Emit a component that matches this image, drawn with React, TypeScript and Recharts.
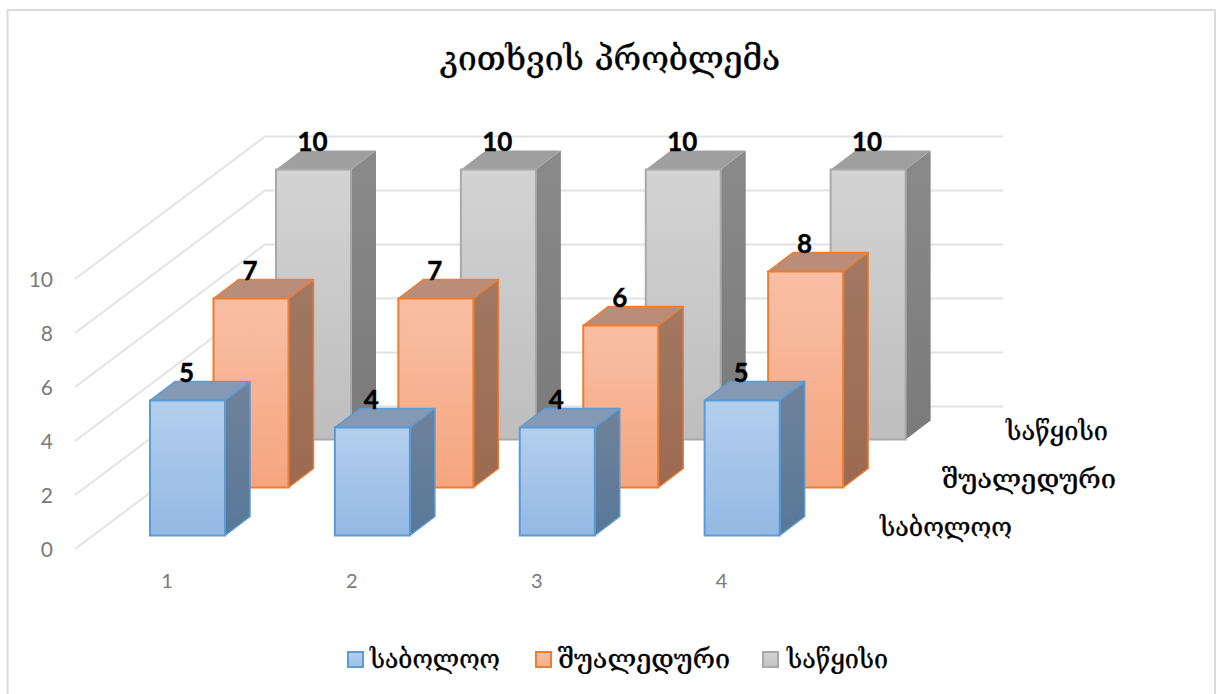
import { Bar, BarChart, CartesianGrid, LabelList, Legend, XAxis, YAxis } from "recharts";

const categories = ["1", "2", "3", "4"];
const finalValues = [5, 4, 4, 5];
const midValues = [7, 7, 6, 8];
const startValues = [10, 10, 10, 10];
const yTicks = [0, 2, 4, 6, 8, 10];

const NAME_FINAL = "საბოლოო";
const NAME_MID = "შუალედური";
const NAME_START = "საწყისი";

const data = categories.map((c, i) => ({
  c,
  [NAME_FINAL]: finalValues[i],
  [NAME_MID]: midValues[i],
  [NAME_START]: startValues[i],
}));

const GEO = "'DejaVu Serif', serif";
const LATIN = "Lato, sans-serif";

const styles = {
  final: { dx: 0, dy: 0, stroke: "#5b9bd5", top: "#8499b3", id: "final", swatch: "#b3cfed,#9fc0e8" },
  mid: { dx: 63.5, dy: -48, stroke: "#ed7d31", top: "#b98d78", id: "mid", swatch: "#f8bfa5,#f6ae8b" },
  start: { dx: 126, dy: -96, stroke: "#a9a9a9", top: "#9f9f9f", id: "start", swatch: "#d2d2d2,#c4c4c4" },
};

function Grad({ id, a, b }: { id: string; a: string; b: string }) {
  return (
    <linearGradient id={id} x1="0" y1="0" x2="0" y2="1">
      <stop offset="0%" stopColor={a} />
      <stop offset="100%" stopColor={b} />
    </linearGradient>
  );
}

// front face + side + top, pushed back by the series' depth
const box = (s: typeof styles.final) => (p: any) => {
  const x = p.x + s.dx;
  const y = p.y + s.dy;
  const w = p.width;
  const h = p.height;
  const dw = 25;
  const dh = 19;
  const edge = s.id === "start" ? "none" : s.stroke;
  return (
    <g>
      <path
        d={`M${x + w},${y} l${dw},${-dh} v${h} l${-dw},${dh} z`}
        fill={`url(#${s.id}Side)`}
        stroke={edge}
        strokeWidth={1.5}
        strokeLinejoin="round"
      />
      <path
        d={`M${x},${y} l${dw},${-dh} h${w} l${-dw},${dh} z`}
        fill={s.top}
        stroke={edge}
        strokeWidth={1.5}
        strokeLinejoin="round"
      />
      <rect x={x} y={y} width={w} height={h} fill={`url(#${s.id}Front)`} stroke={s.stroke} strokeWidth={2} />
    </g>
  );
};

const valueLabel = (s: typeof styles.final) => (p: any) => (
  <text
    x={p.x + p.width / 2 + s.dx - 1}
    y={p.y + s.dy - 29}
    textAnchor="middle"
    dominantBaseline="central"
    fontFamily={LATIN}
    fontWeight={700}
    fontSize={26}
    stroke="#000"
    strokeWidth={0.4}
    fill="#000"
  >
    {p.value}
  </text>
);

// wall line for each value: diagonal on the side wall, then flat across the back wall
const wallLine = (p: any) => {
  const y = p.y1;
  return (
    <path
      key={p.index}
      d={`M75,${y + 13.5} L265,${y - 129} L1003,${y - 129}`}
      fill="none"
      stroke="#e2e2e2"
      strokeWidth={2}
    />
  );
};

const yTick = (p: any) => (
  <text x={53} y={p.y + 13} textAnchor="end" dominantBaseline="central" fontFamily={LATIN} fontSize={21} fill="#7a7a7a">
    {p.payload.value}
  </text>
);

const xTick = (p: any) => (
  <text x={p.x - 20.5} y={580} textAnchor="middle" dominantBaseline="central" fontFamily={LATIN} fontSize={20} fill="#7a7a7a">
    {p.payload.value}
  </text>
);

function SeriesName({ x, y, name, width }: { x: number; y: number; name: string; width: number }) {
  return (
    <text
      x={x}
      y={y}
      textAnchor="end"
      dominantBaseline="central"
      fontFamily={GEO}
      fontSize={26}
      stroke="#000"
      strokeWidth={0.35}
      fill="#000"
      textLength={width}
      lengthAdjust="spacingAndGlyphs"
    >
      {name}
    </text>
  );
}

function LegendRow() {
  const items = [
    { name: NAME_FINAL, s: styles.final, left: 347, text: 370, width: 130 },
    { name: NAME_MID, s: styles.mid, left: 535, text: 558, width: 172 },
    { name: NAME_START, s: styles.start, left: 762, text: 787, width: 101 },
  ];
  return (
    <div style={{ position: "relative", height: 30 }}>
      <svg width={1217} height={30} style={{ position: "absolute", left: 0, top: 0 }}>
        {items.map((it) => (
          <text
            key={it.name}
            x={it.text}
            y={15}
            dominantBaseline="central"
            fontFamily={GEO}
            fontSize={26}
            stroke="#000"
            strokeWidth={0.35}
            fill="#000"
            textLength={it.width}
            lengthAdjust="spacingAndGlyphs"
          >
            {it.name}
          </text>
        ))}
      </svg>
      {items.map((it) => (
        <div
          key={it.name}
          style={{
            position: "absolute",
            left: it.left,
            top: 7,
            width: 13,
            height: 13,
            border: `2px solid ${it.s.stroke}`,
            background: `linear-gradient(${it.s.swatch})`,
          }}
        />
      ))}
    </div>
  );
}

export default function App() {
  return (
    <div style={{ position: "absolute", left: 0, top: 0, width: 1217, height: 694, overflow: "hidden", background: "#fff" }}>
      <BarChart
        width={1217}
        height={694}
        data={data}
        margin={{ top: 265.5, right: 382.5, bottom: 127.5, left: 94 }}
        barSize={75}
        barGap={-75}
      >
        <defs>
          <Grad id="finalFront" a="#b3cfed" b="#94b9e4" />
          <Grad id="finalSide" a="#6f8299" b="#587899" />
          <Grad id="midFront" a="#f8bfa5" b="#f5a57e" />
          <Grad id="midSide" a="#a17862" b="#9c6a50" />
          <Grad id="startFront" a="#d3d3d3" b="#bebebe" />
          <Grad id="startSide" a="#8a8a8a" b="#7a7a7a" />
        </defs>
        <path d="M7.5,700 V10 H1215 V700" fill="none" stroke="#dcdcdc" strokeWidth={2} />
        <text
          x={610}
          y={58}
          textAnchor="middle"
          dominantBaseline="central"
          fontFamily={GEO}
          fontSize={33.5}
          stroke="#000"
          strokeWidth={0.4}
          fill="#000"
        >
          კითხვის პრობლემა
        </text>
        <CartesianGrid vertical={false} horizontal={wallLine} />
        <XAxis dataKey="c" height={1} axisLine={false} tickLine={false} tick={xTick} />
        <YAxis width={1} domain={[0, 10]} ticks={yTicks} axisLine={false} tickLine={false} tick={yTick} />
        <Bar dataKey={NAME_START} shape={box(styles.start)} isAnimationActive={false}>
          <LabelList dataKey={NAME_START} content={valueLabel(styles.start)} />
        </Bar>
        <Bar dataKey={NAME_MID} shape={box(styles.mid)} isAnimationActive={false}>
          <LabelList dataKey={NAME_MID} content={valueLabel(styles.mid)} />
        </Bar>
        <Bar dataKey={NAME_FINAL} shape={box(styles.final)} isAnimationActive={false}>
          <LabelList dataKey={NAME_FINAL} content={valueLabel(styles.final)} />
        </Bar>
        <SeriesName x={1108} y={431} name={NAME_START} width={102} />
        <SeriesName x={1116} y={479} name={NAME_MID} width={174} />
        <SeriesName x={1012} y={527} name={NAME_FINAL} width={132} />
        <Legend content={<LegendRow />} wrapperStyle={{ left: 0, top: 644, width: 1217, height: 30 }} />
      </BarChart>
    </div>
  );
}
